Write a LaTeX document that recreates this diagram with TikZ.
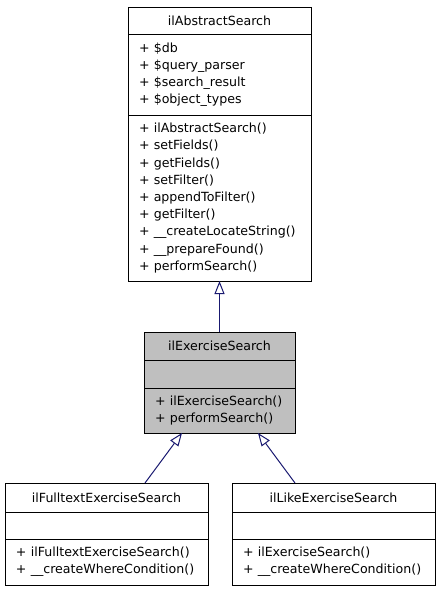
\documentclass[tikz,border=0pt]{standalone}
\usepackage{fontspec}
\setmainfont{DejaVu Sans}
\usetikzlibrary{positioning,arrows.meta}

\definecolor{edgeblue}{HTML}{191970}
\definecolor{classgray}{HTML}{BFBFBF}
\hyphenpenalty=10000

\begin{document}
\begin{tikzpicture}[
                x=1pt, y=-1pt,
                every node/.append style={draw,line width=1pt,outer sep=0pt,inner xsep=11pt,inner ysep=0pt,
                    font=\fontsize{12.6}{17.2}\selectfont},
                head/.style={anchor=north,align=center,text width=#1},
                part/.style={align=left,text width=#1},
                cur/.style={fill=classgray},
                extends/.style={draw=edgeblue,line width=1pt,-{Triangle[open,length=13pt,width=10pt]}}
            ]
                \useasboundingbox (0,0) rectangle (440,592);
                % base class
                \node (abs)  [head=161pt,minimum height=27pt] at (219.5,7) {ilAbstractSearch};
                \node (absA) [part=161pt,minimum height=81pt,below=0pt of abs]
                    {+~\$db\\+~\$query\_parser\\+~\$search\_result\\+~\$object\_types};
                \node (absM) [part=161pt,minimum height=166pt,below=0pt of absA]
                    {+~ilAbstractSearch()\\+~setFields()\\+~getFields()\\+~setFilter()\\+~appendToFilter()\\
                     +~getFilter()\\+~\_\_createLocateString()\\+~\_\_prepareFound()\\+~performSearch()};
                % current class
                \node (ex)  [head=129pt,cur,minimum height=28pt] at (219.5,332) {ilExerciseSearch};
                \node (exA) [part=129pt,cur,minimum height=28pt,below=0pt of ex] {};
                \node (exM) [part=129pt,cur,minimum height=45pt,below=0pt of exA]
                    {+~ilExerciseSearch()\\+~performSearch()};
                % derived classes
                \node (full)  [head=181pt,minimum height=29pt] at (106.5,483) {ilFulltextExerciseSearch};
                \node (fullA) [part=181pt,minimum height=27pt,below=0pt of full] {};
                \node (fullM) [part=181pt,minimum height=46pt,below=0pt of fullA]
                    {+~ilFulltextExerciseSearch()\\+~\_\_createWhereCondition()};
                \node (like)  [head=181pt,minimum height=29pt] at (333.5,483) {ilLikeExerciseSearch};
                \node (likeA) [part=181pt,minimum height=27pt,below=0pt of like] {};
                \node (likeM) [part=181pt,minimum height=46pt,below=0pt of likeA]
                    {+~ilExerciseSearch()\\+~\_\_createWhereCondition()};
                \draw[extends] (ex.north) -- (absM.south);
                \draw[extends] ([xshift=38.5pt]full.north) -- ([xshift=-37.5pt]exM.south);
                \draw[extends] ([xshift=-38.5pt]like.north) -- ([xshift=38.5pt]exM.south);
            \end{tikzpicture}
\end{document}
